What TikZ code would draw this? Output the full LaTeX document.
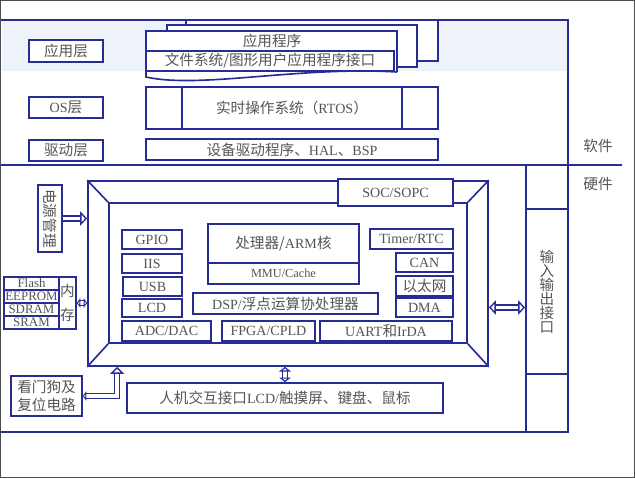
\documentclass[tikz,border=0pt]{standalone}
\usepackage{fontspec}
\setmainfont{Liberation Serif}
\newfontfamily\cjk[Scale=1.04]{Noto Sans CJK SC}
\usetikzlibrary{positioning, arrows.meta}
\definecolor{lineblue}{RGB}{40,44,150}
\definecolor{txtgray}{RGB}{85,85,85}
\definecolor{bandblue}{RGB}{238,243,250}
\newcommand{\zh}[1]{{\cjk #1}}

\tikzset{
  ln/.style={draw=lineblue, line width=1.4pt},
  txt/.style={text=txtgray, inner sep=0pt, font=\fontsize{12}{14}\selectfont},
  bx/.style args={#1/#2/#3/#4}{anchor=center, at={({(#1+#3)/2},{(#2+#4)/2})},
    minimum width={(#3-#1)*0.3mm}, minimum height={(#4-#2)*0.3mm}},
  blk/.style={ln, fill=white, txt},
  small/.style={font=\fontsize{11}{12}\selectfont},
  dbl/.style={draw=lineblue, line width=1.2pt, double=white, double distance=3pt},
  hd/.tip={Triangle[length=6pt, width=12pt, line width=1.2pt, fill=white]},
  md/.tip={Triangle[length=4pt, width=10pt, line width=1.2pt, fill=white]},
  sd/.tip={Triangle[length=3pt, width=8pt, line width=1.2pt, fill=white]},
}

\begin{document}
\begin{tikzpicture}[x=0.3mm, y=-0.3mm]
\useasboundingbox (0,0) rectangle (635,478);
\fill[bandblue] (2,21) rectangle (568,71);
% partition lines
\draw[ln] (0,20) -- (568,20) -- (568,432) -- (0,432);
\draw[ln] (0,165) -- (622,165);
\draw[ln] (526,165) -- (526,432);
\node[txt] (sw) at (598,146) {\zh{软件}};
\node[txt] (hw) at (598,184) {\zh{硬件}};

% software layers
\node[blk, bx=29/40/103/62] (applayer) {\zh{应用层}};
\node[blk, bx=29/97/103/118] (oslayer) {OS\zh{层}};
\node[blk, bx=29/140/103/161] (drvlayer) {\zh{驱动层}};

\node[blk, bx=186/20/438/61] (appback) {};
\node[blk, bx=167/25/417/67] (appmid) {};
\draw[ln, fill=white] (397,72) -- (397,31) -- (146,31) -- (146,77)
  .. controls (200,89) and (300,66) .. (397,72);
\node[txt] (appprog) at (272,41) {\zh{应用程序}};
\node[blk, bx=146/51/394/71] (appapi) {\zh{文件系统/图形用户应用程序接口}};

\node[blk, bx=146/87/438/129] (osbox) {};
\node[blk, bx=182/87/402/129] (rtos) {\zh{实时操作系统（}RTOS\zh{）}};
\node[blk, bx=146/139/438/160] (drv) {\zh{设备驱动程序、}HAL\zh{、}BSP};

% chip
\node[ln, inner sep=0pt, bx=88/181/488/366] (chip) {};
\node[ln, inner sep=0pt, bx=109/203/467/343] (core) {};
\foreach \c in {north west, north east, south west, south east}
  \draw[ln] (chip.\c) -- (core.\c);
\node[blk, bx=338/179/453/206] (soc) {SOC/SOPC};

\node[blk, bx=122/230/182/249] (gpio) {GPIO};
\node[blk, bx=122/254/182/273] (iis) {IIS};
\node[blk, bx=123/277/182/296] (usb) {USB};
\node[blk, bx=122/299/182/317] (lcd) {LCD};
\node[blk, bx=122/321/211/341] (adc) {ADC/DAC};
\node[blk, bx=222/321/315/341] (fpga) {FPGA/CPLD};
\node[blk, bx=320/321/452/341] (uart) {UART\zh{和}IrDA};
\node[blk, bx=208/224/359/263] (proc) {\zh{处理器/}ARM\zh{核}};
\node[blk, bx=208/263/359/284, font=\fontsize{10.5}{12}\selectfont] (mmu) {MMU/Cache};
\node[blk, bx=193/293/378/314] (dsp) {DSP/\zh{浮点运算协处理器}};
\node[blk, bx=370/229/453/249] (timer) {Timer/RTC};
\node[blk, bx=396/253/453/272] (can) {CAN};
\node[blk, bx=396/276/453/296] (eth) {\zh{以太网}};
\node[blk, bx=396/298/453/317] (dma) {DMA};

% around the chip
\node[blk, bx=38/185/62/252] (power) {};
\node[txt, rotate=-90] (powertxt) at (power) {\zh{电源管理}};

\node[blk, small, bx=4/277/59/290] (flash) {Flash};
\node[blk, small, bx=4/290/59/303] (eeprom) {EEPROM};
\node[blk, small, bx=4/303/59/316] (sdram) {SDRAM};
\node[blk, small, bx=4/316/59/329] (sram) {SRAM};
\node[blk, bx=59/277/76/329, align=center, font=\fontsize{12}{20}\selectfont] (mem) {\zh{内}\\\zh{存}};

\node[blk, bx=526/209/568/374, align=center, font=\fontsize{12}{12}\selectfont] (io)
  {\zh{输}\\\zh{入}\\\zh{输}\\\zh{出}\\\zh{接}\\\zh{口}};
\node[blk, bx=127/383/443/413] (hci) {\zh{人机交互接口}LCD/\zh{触摸屏、键盘、鼠标}};
\node[blk, bx=11/376/82/416, align=center, font=\fontsize{12}{15}\selectfont] (wdog)
  {\zh{看门狗及}\\\zh{复位电路}};

% connectors
\draw[dbl, -hd] (power.east) -- (power.east -| chip.west);
\draw[dbl, sd-sd] (mem.east) -- (mem.east -| chip.west);
\draw[dbl, hd-hd] (chip.east |- dma) -- (io.west |- dma);
\draw[dbl, md-md] (hci.north) -- (hci.north |- chip.south);
\draw[dbl, sd-hd] (wdog.east) -| ([xshift=9mm]chip.south west);

\draw[gray!60!black, line width=1.2pt] (0.5,0.5) rectangle (634.5,477.5);
\end{tikzpicture}
\end{document}
